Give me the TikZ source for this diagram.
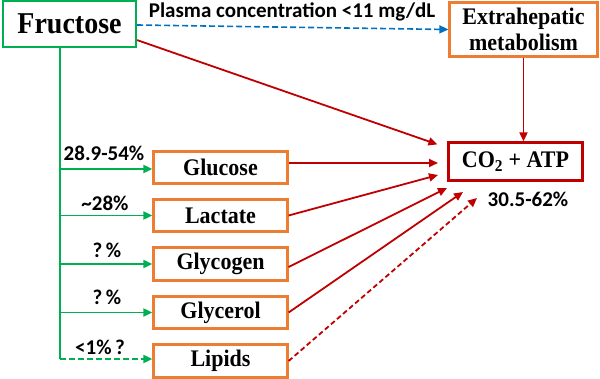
\documentclass[tikz,border=0pt]{standalone}
\usepackage{graphicx}
\usepackage{fontspec}
\setmainfont{Liberation Serif}
\newfontfamily\lblfont{Carlito}
\usetikzlibrary{arrows.meta,calc}
\definecolor{grn}{HTML}{00B050}
\definecolor{org}{HTML}{ED7D31}
\definecolor{rd}{HTML}{C00000}
\definecolor{blu}{HTML}{0070C0}
\newcommand\vst[1]{\scalebox{1}[1.08]{#1}}
\begin{document}
\begin{tikzpicture}[x=1pt,y=-1pt,
  box/.style={draw,line width=2.2pt,fill=white,inner sep=0pt,font=\fontsize{22}{26}\selectfont\bfseries,align=center},
  lbl/.style={font=\fontsize{21}{24}\selectfont\lblfont\bfseries,inner sep=0pt},
  tip/.style={-{Triangle[length=9pt,width=8pt]}},
  garr/.style={grn,line width=1.8pt},
  rarr/.style={rd,line width=1.8pt,tip},
  dsh/.style={dash pattern=on 6pt off 3pt}]
\useasboundingbox (0,0) rectangle (600,379);
% nodes
\node[box,draw=grn,minimum width=133pt,minimum height=46pt,font=\fontsize{28}{32}\selectfont\bfseries] (fru) at (69.5,24) {\vst{Fructose}};
\node[box,draw=org,minimum width=148pt,minimum height=54pt] (ext) at (523.5,29.5) {\vst{Extrahepatic}\\\vst{metabolism}};
\node[box,draw=rd,minimum width=134pt,minimum height=38pt] (co2) at (515.5,161.5) {\vst{CO$_\mathbf{2}$ + ATP}};
\node[box,draw=org,minimum width=134pt,minimum height=32pt] (glu) at (220.5,167.5) {\vst{Glucose}};
\node[box,draw=org,minimum width=134pt,minimum height=32pt] (lac) at (220.5,215.5) {\vst{Lactate}};
\node[box,draw=org,minimum width=134pt,minimum height=33pt] (glg) at (220.5,264) {\vst{Glycogen}};
\node[box,draw=org,minimum width=134pt,minimum height=32pt] (gly) at (220.5,312.5) {\vst{Glycerol}};
\node[box,draw=org,minimum width=134pt,minimum height=33pt] (lip) at (220.5,361) {\vst{Lipids}};
% labels
\node[lbl] (plasma) at (292,12) {Plasma concentration <11 mg/dL};
\node[lbl] (co2pct) at (528,199) {30.5-62\%};
\node[lbl] (l1) at (104,153) {28.9-54\%};
\node[lbl] (l2) at (105,203) {\textasciitilde28\%};
\node[lbl] (l3) at (107,250) {?\,\%};
\node[lbl] (l4) at (107,297) {?\,\%};
\node[lbl] (l5) at (100,347) {<1\%\,?};
% target coordinates
\coordinate (t0) at ($(co2.north west)+(-10,3)$);
\coordinate (t1) at (438,163);
\coordinate (t2) at (438,175);
\coordinate (t3) at (447,188);
\coordinate (t4) at (463,192);
\coordinate (t5) at (477,198);
\coordinate (trunk) at (60,0);
% blue dashed
\draw[blu,line width=1.6pt,dsh,tip] ($(fru.east)+(0,1)$) -- (ext.west);
% red arrows
\draw[rarr] ($(fru.south east)+(0,-8)$) -- (t0);
\draw[rarr] (ext.south) -- (ext.south |- co2.north);
\draw[rarr] ($(glu.east)+(0,-4.5)$) -- (t1);
\draw[rarr] (lac.east) -- (t2);
\draw[rarr] ($(glg.east)+(0,3)$) -- (t3);
\draw[rarr] (gly.east) -- (t4);
\draw[rarr,dash pattern=on 5pt off 3pt] (lip.east) -- (t5);
% green tree
\draw[garr] (trunk |- fru.south) -- ($(trunk |- lip.west)+(0,-2)$);
\draw[garr,tip] ($(trunk |- glu.west)+(0,1.5)$) -- ($(glu.west)+(0,1.5)$);
\draw[garr,tip] (trunk |- lac.west) -- (lac.west);
\draw[garr,tip] (trunk |- glg.west) -- (glg.west);
\draw[garr,tip] (trunk |- gly.west) -- (gly.west);
\draw[garr,tip,dsh] ($(trunk |- lip.west)+(0,-2)$) -- ($(lip.west)+(0,-2)$);
\end{tikzpicture}
\end{document}
